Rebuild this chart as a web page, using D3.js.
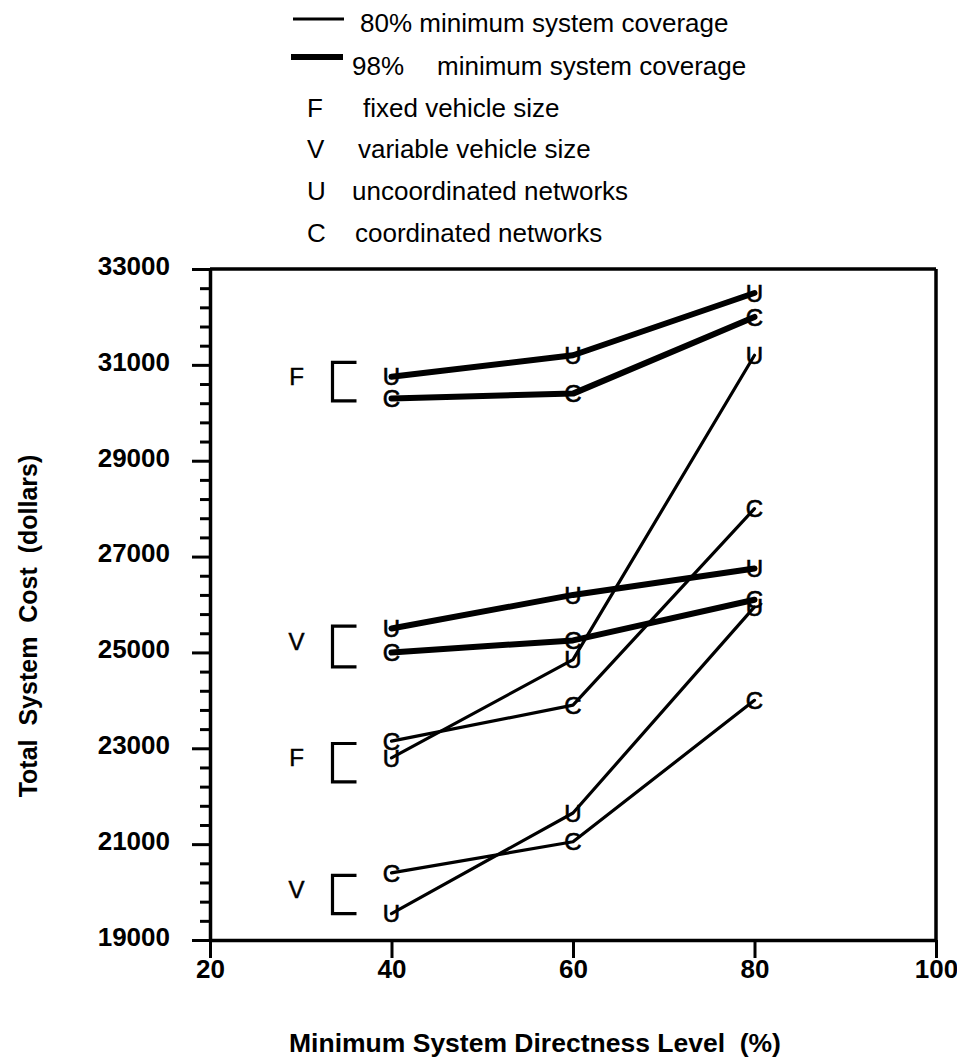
<!DOCTYPE html>
<html><head><meta charset="utf-8">
<script src="https://cdn.jsdelivr.net/npm/d3@7"></script>
<style>body{margin:0;background:#fff}svg{display:block}</style>
</head><body>
<svg id="c" width="957" height="1061"></svg>
<script>
// ---- data ----
const directness = [40, 60, 80];
const fixed98U = [30750, 31200, 32500];
const fixed98C = [30300, 30400, 32000];
const var98U   = [25500, 26200, 26750];
const var98C   = [25000, 25250, 26100];
const fixed80U = [22800, 24850, 31200];
const fixed80C = [23150, 23900, 28000];
const var80U   = [19550, 21650, 25950];
const var80C   = [20400, 21050, 24000];
const xTicks = [20, 40, 60, 80, 100];
const yMajorTicks = [19000, 21000, 23000, 25000, 27000, 29000, 31000, 33000];
const groupLabels = ["F", "V", "F", "V"];
const groupTop    = [31050, 25550, 23100, 20350];
const groupBottom = [30250, 24700, 22300, 19550];
const legendLines = ["80% minimum system coverage", "98%"];
const legendLetters = ["F", "V", "U", "C"];
const legendTexts = ["fixed vehicle size", "variable vehicle size", "uncoordinated networks", "coordinated networks"];

const series = [
  {vals: fixed98U, mark: "U", w: 6},
  {vals: fixed98C, mark: "C", w: 6},
  {vals: var98U,   mark: "U", w: 6},
  {vals: var98C,   mark: "C", w: 6},
  {vals: fixed80U, mark: "U", w: 3.2},
  {vals: fixed80C, mark: "C", w: 3.2},
  {vals: var80U,   mark: "U", w: 3.2},
  {vals: var80C,   mark: "C", w: 3.2}
];

const FONT = "'Liberation Sans', Arial, Helvetica, sans-serif";
const svg = d3.select("#c");
const x = d3.scaleLinear().domain([20, 100]).range([210, 936]);
const y = d3.scaleLinear().domain([19000, 33000]).range([940, 269]);
const yMinor = d3.range(19000, 33001, 400).filter(v => !yMajorTicks.includes(v));

// minor ticks
const gMinor = svg.append("g").attr("transform", `translate(${x(20)},0)`)
  .call(d3.axisLeft(y).tickValues(yMinor).tickSize(10).tickSizeOuter(0).tickFormat(""));
gMinor.select(".domain").remove();
gMinor.selectAll("line").attr("stroke", "#000").attr("stroke-width", 3);

// major y axis
const gy = svg.append("g").attr("transform", `translate(${x(20)},0)`)
  .call(d3.axisLeft(y).tickValues(yMajorTicks).tickSize(18).tickSizeOuter(0).tickPadding(22).tickFormat(d3.format("d")));
gy.select(".domain").attr("stroke", "#000").attr("stroke-width", 3.5);
gy.selectAll("line").attr("stroke", "#000").attr("stroke-width", 3);
gy.selectAll("text").attr("font-family", FONT).attr("font-size", 26).attr("font-weight", "bold")
  .attr("fill", "#000").attr("y", -3);

// x axis
const gx = svg.append("g").attr("transform", `translate(0,${y(19000)})`)
  .call(d3.axisBottom(x).tickValues(xTicks).tickSize(18).tickSizeOuter(0).tickPadding(2).tickFormat(d3.format("d")));
gx.select(".domain").attr("stroke", "#000").attr("stroke-width", 3.5);
gx.selectAll("line").attr("stroke", "#000").attr("stroke-width", 3);
gx.selectAll("text").attr("font-family", FONT).attr("font-size", 26).attr("font-weight", "bold").attr("fill", "#000");

// frame top and right
svg.append("line").attr("x1", x(20)).attr("x2", x(100)).attr("y1", y(33000)).attr("y2", y(33000))
  .attr("stroke", "#000").attr("stroke-width", 3.5);
svg.append("line").attr("x1", x(100)).attr("x2", x(100)).attr("y1", y(33000)).attr("y2", y(19000))
  .attr("stroke", "#000").attr("stroke-width", 3.5);

// axis titles
svg.append("text").attr("transform", `translate(37,626) rotate(-90)`).attr("text-anchor", "middle")
  .attr("font-family", FONT).attr("font-size", 25).attr("font-weight", "bold")
  .style("white-space", "pre")
  .text("Total  System  Cost  (dollars)");
svg.append("text").attr("x", 535).attr("y", 1052).attr("text-anchor", "middle")
  .attr("font-family", FONT).attr("font-size", 26.5).attr("font-weight", "bold")
  .style("white-space", "pre")
  .text("Minimum System Directness Level  (%)");

// series lines
const line = d3.line().x((d, i) => x(directness[i])).y(d => y(d));
series.forEach(s => {
  svg.append("path").attr("d", line(s.vals)).attr("fill", "none").attr("stroke", "#000")
    .attr("stroke-width", s.w).attr("stroke-linejoin", "round").attr("stroke-linecap", "round");
});
series.forEach(s => {
  s.vals.forEach((v, i) => {
    svg.append("text").attr("x", x(directness[i])).attr("y", y(v)).attr("dy", "0.36em")
      .attr("text-anchor", "middle").attr("font-family", FONT).attr("font-size", 24)
      .attr("fill", "#000").attr("stroke", "#000").attr("stroke-width", 0.6).text(s.mark);
  });
});

// group brackets
groupLabels.forEach((lab, i) => {
  const xv = x(40) - 59, xh = x(40) - 35;
  const yt = y(groupTop[i]), yb = y(groupBottom[i]);
  svg.append("path").attr("d", `M${xh},${yt}H${xv}V${yb}H${xh}`).attr("fill", "none")
    .attr("stroke", "#000").attr("stroke-width", 3.2);
  svg.append("text").attr("x", x(40) - 95).attr("y", (yt + yb) / 2 - 5).attr("dy", "0.36em")
    .attr("text-anchor", "middle").attr("font-family", FONT).attr("font-size", 24)
    .attr("stroke", "#000").attr("stroke-width", 0.5).text(lab);
});

// legend
const lg = svg.append("g").attr("font-family", FONT).attr("font-size", 26).attr("fill", "#000");
lg.append("line").attr("x1", 293).attr("x2", 344).attr("y1", 19).attr("y2", 19).attr("stroke", "#000").attr("stroke-width", 3);
lg.append("text").attr("x", 360).attr("y", 32).text(legendLines[0]);
lg.append("line").attr("x1", 291).attr("x2", 343).attr("y1", 57).attr("y2", 57).attr("stroke", "#000").attr("stroke-width", 6);
lg.append("text").attr("x", 352).attr("y", 75).text(legendLines[1]);
lg.append("text").attr("x", 437).attr("y", 75).text("minimum system coverage");
const lx = [363, 358, 352, 355];
const ly = [117, 158, 200, 242];
legendLetters.forEach((l, i) => {
  lg.append("text").attr("x", 307).attr("y", ly[i]).text(l);
  lg.append("text").attr("x", lx[i]).attr("y", ly[i]).text(legendTexts[i]);
});
</script>
</body></html>
